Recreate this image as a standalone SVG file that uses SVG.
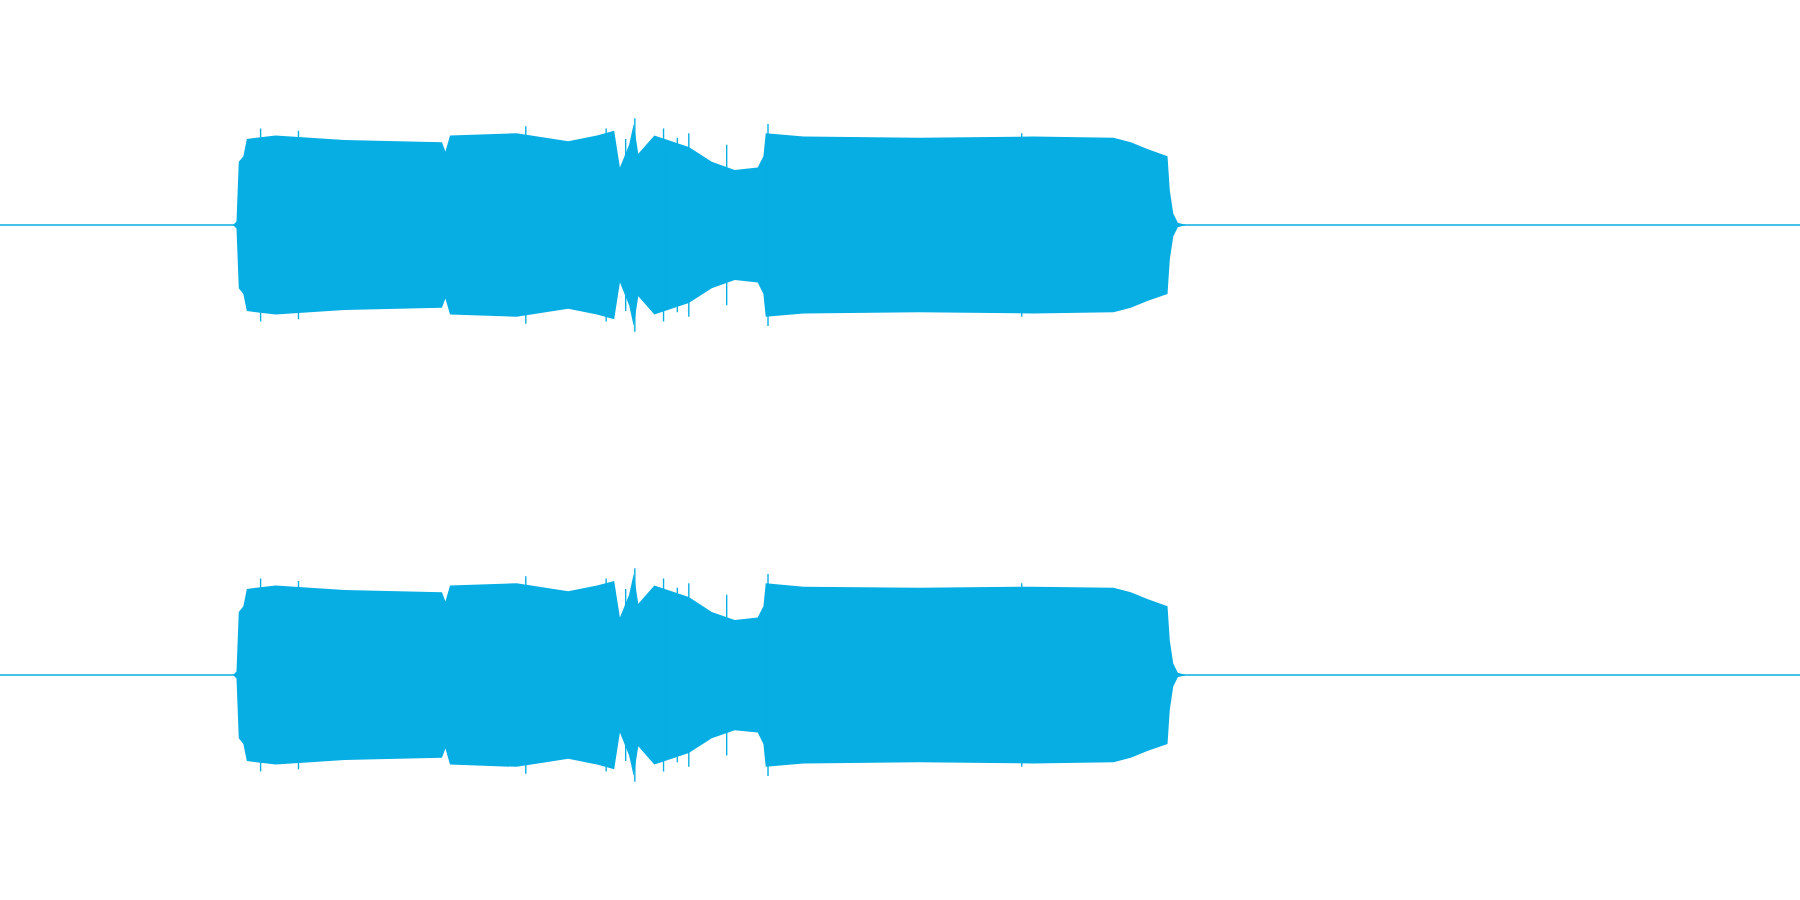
<svg xmlns="http://www.w3.org/2000/svg" xmlns:xlink="http://www.w3.org/1999/xlink" width="1800" height="900" viewBox="0 0 1800 900">
<style>.w{fill:#07aee3}.l{stroke:#07aee3;stroke-width:1.2;fill:none}.s{stroke:#07aee3;stroke-width:1.2}</style>
<rect width="1800" height="900" fill="#fff"/>
<defs>
<g id="ch">
<line class="l" x1="0" y1="0" x2="1800" y2="0"/>
<path class="w" d="M203,0 L206,-3 L208,-55 L212,-60 L215,-75 L240,-78 L300,-74 L385,-72 L388,-64 L392,-78 L450,-80 L495,-73 L520,-78 L535,-82 L540,-50 L548,-70 L552,-88 L556,-62 L570,-78 L600,-68 L620,-55 L640,-48 L660,-50 L665,-60 L667,-80 L700,-77 L800,-76 L900,-77 L970,-76 L985,-72 L1000,-66 L1017,-60 L1019,-30 L1022,-10 L1026,-2 L1033,0 L1026,2 L1022,10 L1019,30 L1017,60 L1000,66 L985,72 L970,76 L900,77 L800,76 L700,77 L667,80 L665,60 L660,50 L640,48 L620,55 L600,68 L570,78 L556,62 L552,88 L548,70 L540,50 L535,82 L520,78 L495,73 L450,80 L392,78 L388,64 L385,72 L300,74 L240,78 L215,75 L212,60 L208,55 L206,3 Z"/>
<path class="s" d="M553,-93V93M227,-84V84M260,-82V82M458,-86V86M528,-84V84M578,-84V84M633,-70V70M669,-88V88M890,-80V80M600,-80V80M545,-75V75M590,-76V76"/>
</g>
</defs>
<g transform="scale(1.148)">
<use xlink:href="#ch" y="196"/>
<use xlink:href="#ch" y="588"/>
</g>
</svg>
